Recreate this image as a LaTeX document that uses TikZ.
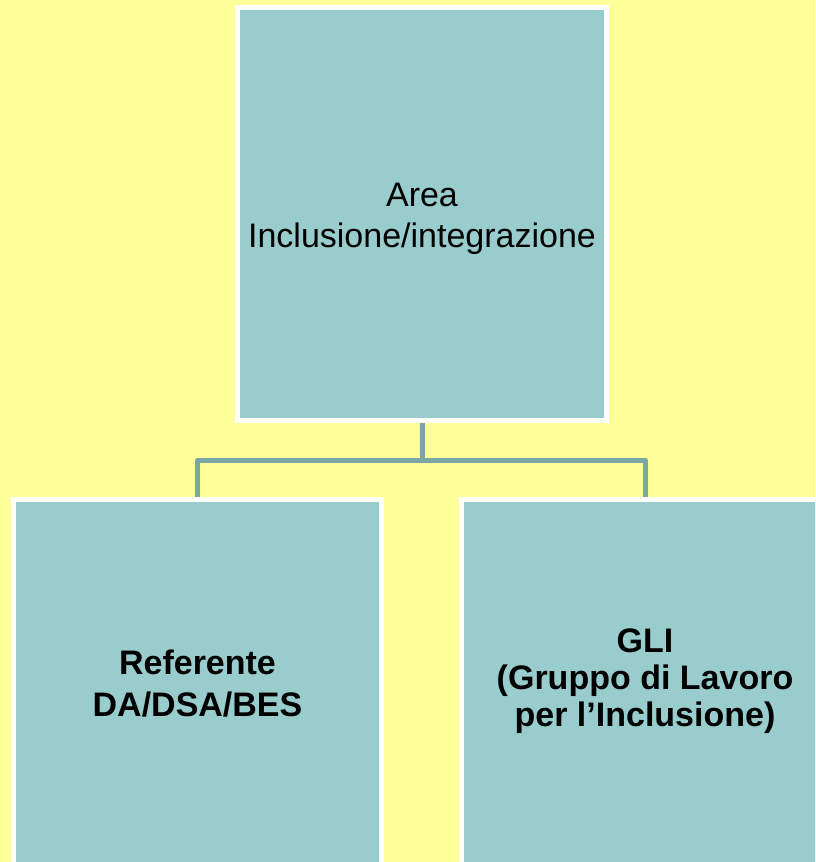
\documentclass[tikz,border=0pt]{standalone}
\usepackage{fontspec}
\setmainfont{Liberation Sans}
\usetikzlibrary{calc}
\definecolor{bgyellow}{HTML}{FFFF99}
\definecolor{boxteal}{HTML}{99CCCC}
\definecolor{linkteal}{HTML}{7AA6A4}
\tikzset{
  orgbox/.style={rectangle, fill=boxteal, draw=white, line width=5pt, align=center,
    inner sep=0pt, font=\fontsize{34}{41}\selectfont},
  boxtext/.style={align=center, inner sep=0pt},
  link/.style={draw=linkteal, line width=5pt, line join=round}
}
\begin{document}
\begin{tikzpicture}[x=1pt,y=-1pt]
\useasboundingbox (0,0) rectangle (815,862);
\clip (0,0) rectangle (815,862);
\fill[bgyellow] (0,0) rectangle (815,862);
\node[orgbox, minimum width=369pt, minimum height=413pt] (top) at (422,214) {};
\node[boxtext, font=\fontsize{34}{41}\selectfont] (toptext) at (422,219)
  {Area\\Inclusione/integrazione};
\node[orgbox, minimum width=368pt, minimum height=368pt, font=\fontsize{34}{42}\selectfont\bfseries] (left) at (197.5,683.5)
  {Referente\\DA/DSA/BES};
\node[orgbox, minimum width=368pt, minimum height=368pt] (right) at (645,683.5) {};
\node[boxtext, font=\fontsize{34}{37}\selectfont\bfseries] (righttext) at (645,681.5)
  {GLI\\(Gruppo di Lavoro\\per l’Inclusione)};
\coordinate (j) at ($(top.south)+(0,37)$);
\draw[link] (top.south) -- (j);
\draw[link] (left.north) |- (j) -| (right.north);
\end{tikzpicture}
\end{document}
